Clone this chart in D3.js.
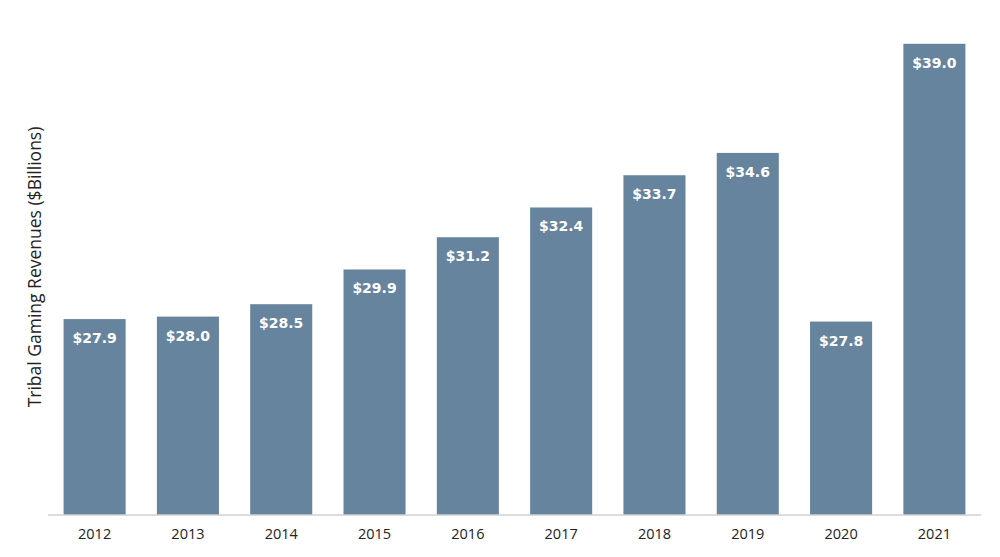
<!DOCTYPE html>
<html><head><meta charset="utf-8">
<script src="https://cdn.jsdelivr.net/npm/d3@7"></script>
<style>body{margin:0;background:#fff}svg{display:block}</style>
</head><body>
<svg id="c" width="1000" height="557"></svg>
<script>
const years = ["2012","2013","2014","2015","2016","2017","2018","2019","2020","2021"];
const revenues = [27.9, 28.0, 28.5, 29.9, 31.2, 32.4, 33.7, 34.6, 27.8, 39.0];
const yDomain = [20, 40];
const yTitle = "Tribal Gaming Revenues ($Billions)";

const svg = d3.select("#c");
const x = d3.scaleBand().domain(years).range([48, 981]).paddingInner(0.335).paddingOuter(0.167);
const y = d3.scaleLinear().domain(yDomain).range([515, 19]);

svg.append("g").selectAll("rect").data(years).join("rect")
  .attr("x", d => x(d)).attr("width", x.bandwidth())
  .attr("y", (d,i) => y(revenues[i])).attr("height", (d,i) => y(yDomain[0]) - y(revenues[i]))
  .attr("fill", "#66849e");

svg.append("g").selectAll("text").data(years).join("text")
  .attr("x", d => x(d) + x.bandwidth()/2)
  .attr("y", (d,i) => y(revenues[i]) + 24)
  .attr("text-anchor", "middle")
  .attr("font-family", "DejaVu Sans, sans-serif").attr("font-weight", "bold")
  .attr("font-size", 14).attr("fill", "#fff")
  .text((d,i) => "$" + revenues[i].toFixed(1));

const xAxis = svg.append("g").attr("transform", "translate(0,515)")
  .call(d3.axisBottom(x).tickSize(0).tickPadding(14));
xAxis.select(".domain").attr("stroke", "#d0d0d0").attr("stroke-width", 1.5)
  .attr("d", "M48,0H981");
xAxis.selectAll("text").attr("font-family", "Open Sans, sans-serif").attr("font-size", 14.5).attr("fill", "#222");

svg.append("text")
  .attr("transform", "translate(41,267) rotate(-90)")
  .attr("text-anchor", "middle")
  .attr("font-family", "Open Sans, sans-serif").attr("font-size", 17.5).attr("fill", "#222")
  .text(yTitle);
</script>
</body></html>
